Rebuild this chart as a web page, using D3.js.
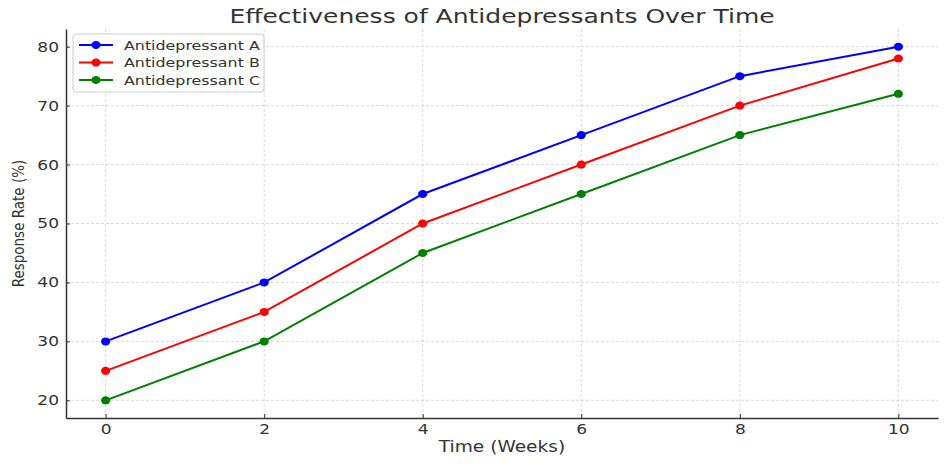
<!DOCTYPE html>
<html>
<head>
<meta charset="utf-8">
<script src="https://cdn.jsdelivr.net/npm/d3@7"></script>
<style>
  body { margin: 0; background: #fff; }
  text { font-family: "DejaVu Sans", sans-serif; fill: #333; }
</style>
</head>
<body>
<div class="chart"></div>
<script>
// data
const weeks = [0, 2, 4, 6, 8, 10];
const seriesNames = ["Antidepressant A", "Antidepressant B", "Antidepressant C"];
const valuesA = [30, 40, 55, 65, 75, 80];
const valuesB = [25, 35, 50, 60, 70, 78];
const valuesC = [20, 30, 45, 55, 65, 72];
const seriesColors = ["#0000ff", "#ff0000", "#008000"];
const yTicks = [20, 30, 40, 50, 60, 70, 80];

const width = 949;
const height = 464;
const margin = { top: 29, right: 11, bottom: 46, left: 66 };
// the picture is a bit stretched sideways, text too
const sx = 1.22;

const svg = d3.select('.chart').append('svg')
    .attr('width', width)
    .attr('height', height);

const x = d3.scaleLinear()
    .domain([-0.5, 10.5])
    .range([margin.left, width - margin.right]);

const y = d3.scaleLinear()
    .domain([17, 83])
    .range([height - margin.bottom, margin.top]);

// grid
svg.append('g')
    .selectAll('line')
    .data(weeks)
    .enter()
    .append('line')
    .attr('x1', d => x(d)).attr('x2', d => x(d))
    .attr('y1', margin.top).attr('y2', height - margin.bottom)
    .attr('stroke', '#d0d0d0')
    .attr('stroke-width', 0.8)
    .attr('stroke-dasharray', '3,2');

svg.append('g')
    .selectAll('line')
    .data(yTicks)
    .enter()
    .append('line')
    .attr('x1', margin.left).attr('x2', width - margin.right)
    .attr('y1', d => y(d)).attr('y2', d => y(d))
    .attr('stroke', '#d0d0d0')
    .attr('stroke-width', 0.8)
    .attr('stroke-dasharray', '3,2');

// axes, ticks pointing inward
const xAxis = svg.append('g')
    .attr('transform', `translate(0, ${height - margin.bottom})`)
    .call(d3.axisBottom(x).tickValues(weeks).tickSizeInner(-4).tickSizeOuter(0).tickPadding(6));

const yAxis = svg.append('g')
    .attr('transform', `translate(${margin.left}, 0)`)
    .call(d3.axisLeft(y).tickValues(yTicks).tickSizeInner(-4).tickSizeOuter(0).tickPadding(7));

[xAxis, yAxis].forEach(ax => {
    ax.select('.domain').attr('stroke', '#333').attr('stroke-width', 1.5);
    ax.selectAll('.tick line').attr('stroke', '#333');
    ax.selectAll('.tick text')
        .style('font-family', '"DejaVu Sans", sans-serif')
        .style('font-size', '14px')
        .attr('fill', '#333');
});
xAxis.selectAll('.tick text').attr('transform', `scale(${sx},1)`);
yAxis.selectAll('.tick text').attr('x', -7 / sx).attr('transform', `scale(${sx},1)`);

// lines
const allValues = [valuesA, valuesB, valuesC];
const line = d3.line()
    .x((d, i) => x(weeks[i]))
    .y(d => y(d));

allValues.forEach((vals, k) => {
    svg.append('path')
        .datum(vals)
        .attr('d', line)
        .attr('fill', 'none')
        .attr('stroke', seriesColors[k])
        .attr('stroke-width', 2);

    svg.append('g')
        .selectAll('ellipse')
        .data(vals)
        .enter()
        .append('ellipse')
        .attr('cx', (d, i) => x(weeks[i]))
        .attr('cy', d => y(d))
        .attr('rx', 4.6)
        .attr('ry', 4)
        .attr('fill', seriesColors[k]);
});

// title + labels
const cx = (margin.left + width - margin.right) / 2;
svg.append('text')
    .attr('transform', `translate(${cx}, 23) scale(1.25,1)`)
    .attr('text-anchor', 'middle')
    .style('font-size', '20px')
    .text('Effectiveness of Antidepressants Over Time');

svg.append('text')
    .attr('transform', `translate(${cx}, 452) scale(1.24,1)`)
    .attr('text-anchor', 'middle')
    .style('font-size', '15px')
    .text('Time (Weeks)');

svg.append('text')
    .attr('transform', `translate(24, ${(margin.top + height - margin.bottom) / 2}) rotate(-90)`)
    .attr('text-anchor', 'middle')
    .style('font-family', '"DejaVu Sans Condensed", "Liberation Sans Narrow", sans-serif')
    .style('font-size', '15px')
    .text('Response Rate (%)');

// legend
const legend = svg.append('g').attr('transform', 'translate(73, 34)');
legend.append('rect')
    .attr('width', 191).attr('height', 58)
    .attr('rx', 3)
    .attr('fill', '#fff')
    .attr('fill-opacity', 0.8)
    .attr('stroke', '#ccc');

seriesNames.forEach((name, k) => {
    const g = legend.append('g').attr('transform', `translate(0, ${11 + k * 17.5})`);
    g.append('line')
        .attr('x1', 6).attr('x2', 40)
        .attr('stroke', seriesColors[k]).attr('stroke-width', 2);
    g.append('ellipse').attr('cx', 23).attr('rx', 4.6).attr('ry', 4).attr('fill', seriesColors[k]);
    g.append('text')
        .attr('transform', `translate(51, 0) scale(${sx},1)`)
        .attr('dy', '0.35em')
        .style('font-size', '13px')
        .text(name);
});
</script>
</body>
</html>
